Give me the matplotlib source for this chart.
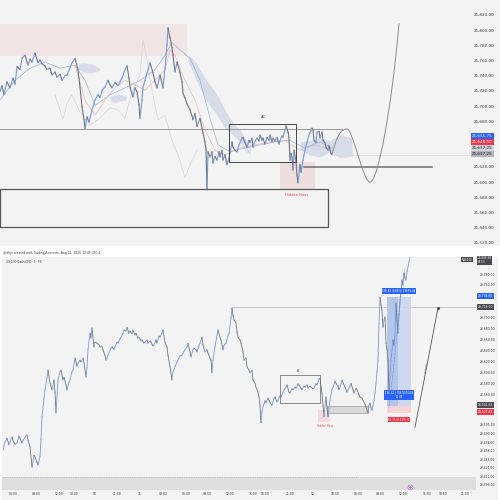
import numpy as np
import matplotlib
matplotlib.use("Agg")
import matplotlib.pyplot as plt
from matplotlib.collections import LineCollection
from matplotlib.patches import Rectangle, PathPatch
from matplotlib.path import Path

# ---------------- TOP PANEL DATA (bar index, price) ----------------
top_bars = [0, 2, 4, 7, 10, 13, 15, 17, 20, 22, 25, 28, 30, 32, 35, 38, 40, 42, 45, 47,
            50, 52, 55, 57, 60, 62, 65, 67, 70, 72, 75, 78, 80, 82, 84, 85, 87, 89, 92, 95,
            98, 100, 102, 105, 108, 110, 112, 115, 118, 120, 122, 125, 127, 129, 130, 133, 135, 137, 139, 140,
            142, 143, 145, 147, 150, 153, 155, 157, 160, 163, 165, 167, 168, 170, 172, 173, 175, 177, 180, 182,
            183, 185, 187, 190, 192, 193, 195, 197, 200, 202, 203, 205, 206, 207, 208, 210, 212, 213, 215, 217,
            219, 220, 222, 223, 225, 227, 229, 230, 232, 233, 235, 237, 239, 240, 242, 243, 245, 247, 249, 250,
            252, 253, 255, 257, 259, 260, 262, 263, 265, 267, 269, 270, 272, 273, 275, 277, 279, 280, 282, 283,
            285, 286, 288, 289, 290, 291, 292, 293, 294, 296, 297, 298, 300, 301, 303, 304, 306, 307, 309, 310,
            312, 313, 314, 316, 317, 319, 320, 322, 323, 325, 326, 328, 329, 331, 332]
top_prices = [21719, 21727, 21715, 21732, 21724, 21737, 21729, 21752, 21748, 21763, 21767, 21754, 21762, 21758, 21770, 21757, 21761, 21756, 21753, 21748,
              21750, 21741, 21745, 21738, 21742, 21734, 21740, 21741, 21750, 21757, 21763, 21748, 21725, 21699, 21682, 21670, 21686, 21679, 21695, 21708,
              21715, 21711, 21721, 21725, 21734, 21728, 21724, 21731, 21727, 21732, 21737, 21748, 21753, 21737, 21725, 21712, 21724, 21719, 21702, 21684,
              21708, 21725, 21734, 21744, 21757, 21744, 21732, 21724, 21741, 21724, 21750, 21781, 21803, 21790, 21777, 21767, 21745, 21758, 21744, 21732,
              21717, 21711, 21703, 21695, 21687, 21682, 21690, 21673, 21684, 21671, 21665, 21653, 21642, 21590, 21640, 21633, 21640, 21625, 21634, 21629,
              21640, 21633, 21642, 21629, 21636, 21623, 21632, 21638, 21653, 21646, 21642, 21640, 21649, 21652, 21658, 21659, 21652, 21646, 21655, 21652,
              21658, 21646, 21654, 21658, 21654, 21662, 21655, 21658, 21650, 21659, 21655, 21662, 21653, 21658, 21654, 21659, 21650, 21655, 21661, 21659,
              21669, 21674, 21666, 21659, 21629, 21638, 21632, 21616, 21642, 21627, 21609, 21599, 21623, 21613, 21629, 21636, 21648, 21653, 21662, 21665,
              21671, 21669, 21655, 21652, 21666, 21667, 21658, 21666, 21655, 21652, 21646, 21642, 21648, 21638, 21636]

top_base_bars = [0, 15, 30, 45, 60, 75, 85, 95, 110, 125, 140, 155, 165, 172, 180, 190, 200, 210, 218, 230, 245, 260, 275, 290, 305, 320, 332]
top_base_prices = [21708, 21734, 21750, 21758, 21750, 21754, 21734, 21701, 21715, 21724, 21734, 21748, 21767, 21784, 21774, 21763, 21734, 21684, 21649, 21640, 21645, 21649, 21653, 21655, 21645, 21653, 21645]

top_conv_bars = [75, 85, 95, 105, 115, 125, 135, 145, 155, 165, 170, 175, 185, 195, 205, 215, 225, 240, 255, 270, 285, 300, 315, 332]
top_conv_prices = [21754, 21708, 21688, 21708, 21724, 21734, 21728, 21721, 21734, 21748, 21774, 21767, 21734, 21708, 21669, 21642, 21636, 21645, 21649, 21653, 21655, 21642, 21649, 21642]

top_lag_bars = [55, 60, 63, 67, 72, 80, 90, 100, 110, 118, 125, 132, 140, 143, 147, 152, 158, 165, 172, 180, 185, 190, 197]
top_lag_prices = [21715, 21695, 21682, 21704, 21715, 21692, 21675, 21684, 21698, 21695, 21684, 21719, 21741, 21787, 21761, 21721, 21682, 21688, 21655, 21629, 21606, 21623, 21642]

cloud_a_bars = [78, 84, 90, 96, 100]
cloud_a_hi = [21756, 21757, 21756, 21753, 21750]
cloud_a_lo = [21748, 21745, 21744, 21745, 21748]
cloud_b_bars = [110, 115, 120, 126]
cloud_b_hi = [21713, 21715, 21716, 21713]
cloud_b_lo = [21707, 21705, 21707, 21708]
cloud_c_bars = [188, 192, 196, 200, 205, 210, 215, 220, 225, 230, 235, 240, 245, 250]
cloud_c_hi = [21767, 21763, 21757, 21748, 21737, 21728, 21719, 21708, 21695, 21684, 21675, 21669, 21658, 21649]
cloud_c_lo = [21758, 21748, 21734, 21724, 21711, 21700, 21692, 21682, 21671, 21666, 21659, 21653, 21642, 21636]
cloud_d_bars = [300, 310, 320, 330, 340, 352]
cloud_d_hi = [21653, 21655, 21658, 21655, 21662, 21658]
cloud_d_lo = [21642, 21636, 21633, 21640, 21632, 21634]

proj_bars = [332, 337, 342, 347, 353, 363, 370, 378, 392, 399]
proj_prices = [21636, 21664, 21670, 21670, 21670, 21600, 21600, 21600, 21700, 21809]

top_ticks = [21520, 21540, 21560, 21580, 21600, 21620, 21680, 21700,
             21720, 21740, 21760, 21780, 21800, 21820]
top_tags = [("21,655.75", 21660.7, "#2962ff", "white"),
            ("21,648.50", 21652.8, "#f23645", "white"),
            ("21,637.25", 21645.0, "#d1d4dc", "#131722"),
            ("21,637.25", 21637.1, "#b2b5be", "#131722")]

# ---------------- BOTTOM PANEL DATA ----------------
bot_bars = [3, 5, 7, 9, 10, 12, 13, 15, 17, 19, 20, 22, 23, 25, 27, 28, 30, 32, 34, 35,
            37, 38, 40, 41, 42, 44, 45, 47, 48, 50, 52, 54, 55, 56, 58, 60, 61, 63, 64, 66,
            67, 69, 70, 72, 73, 75, 77, 78, 80, 81, 83, 84, 86, 87, 88, 90, 91, 92, 94, 95,
            97, 99, 100, 102, 103, 105, 106, 108, 109, 111, 112, 114, 115, 117, 118, 120, 121, 123, 124, 126,
            127, 129, 130, 132, 133, 135, 136, 138, 139, 141, 142, 144, 145, 147, 148, 150, 151, 153, 154, 156,
            157, 159, 160, 162, 163, 165, 167, 168, 170, 172, 173, 175, 177, 178, 180, 182, 183, 185, 187, 188,
            190, 191, 193, 194, 196, 197, 199, 200, 202, 203, 205, 207, 208, 210, 211, 212, 213, 215, 217, 218,
            220, 221, 223, 224, 226, 228, 229, 231, 232, 233, 234, 236, 237, 238, 240, 241, 243, 244, 246, 247,
            249, 250, 252, 253, 255, 256, 258, 259, 260, 261, 262, 263, 265, 266, 268, 269, 271, 272, 274, 275,
            277, 278, 280, 281, 283, 284, 286, 287, 289, 290, 292, 293, 295, 296, 298, 299, 301, 302, 304, 305,
            307, 308, 310, 311, 313, 314, 316, 317, 319, 320, 321, 322, 323, 324, 325, 326, 327, 328, 329, 330,
            332, 333, 335, 336, 338, 339, 341, 342, 344, 345, 347, 348, 350, 351, 353, 354, 356, 357, 359, 360,
            362, 363, 365, 366, 367, 368, 369, 370, 371, 372, 373, 374, 375, 376, 377, 378, 379, 380, 381, 382,
            383, 384, 385, 386, 387, 388, 389, 390, 391, 392, 393, 394, 395, 396, 397, 398, 399, 400, 401, 402,
            403, 404, 405, 406, 407, 408, 409, 410]
bot_prices = [23459, 23474, 23481, 23469, 23474, 23483, 23477, 23470, 23472, 23485, 23481, 23472, 23477, 23483, 23487, 23477, 23465, 23428, 23450, 23447,
              23437, 23432, 23447, 23478, 23520, 23554, 23569, 23591, 23605, 23581, 23569, 23587, 23565, 23527, 23587, 23602, 23605, 23587, 23592, 23578,
              23569, 23583, 23587, 23602, 23605, 23627, 23612, 23618, 23623, 23620, 23627, 23618, 23592, 23609, 23642, 23672, 23663, 23682, 23647, 23656,
              23654, 23651, 23647, 23649, 23642, 23631, 23623, 23632, 23636, 23645, 23647, 23643, 23647, 23656, 23654, 23662, 23665, 23672, 23678, 23676,
              23683, 23672, 23676, 23671, 23678, 23669, 23672, 23663, 23665, 23658, 23660, 23654, 23656, 23660, 23654, 23658, 23656, 23649, 23651, 23660,
              23654, 23667, 23665, 23672, 23678, 23656, 23647, 23632, 23611, 23587, 23602, 23611, 23620, 23623, 23631, 23632, 23636, 23642, 23647, 23654,
              23638, 23629, 23642, 23645, 23642, 23638, 23649, 23654, 23665, 23651, 23638, 23642, 23636, 23627, 23623, 23600, 23623, 23647, 23669, 23678,
              23665, 23660, 23642, 23650, 23654, 23667, 23672, 23700, 23718, 23705, 23696, 23691, 23674, 23665, 23660, 23654, 23638, 23623, 23627, 23611,
              23605, 23600, 23605, 23587, 23581, 23574, 23565, 23556, 23541, 23509, 23529, 23538, 23549, 23545, 23554, 23550, 23543, 23541, 23554, 23556,
              23547, 23550, 23558, 23556, 23565, 23569, 23574, 23578, 23565, 23563, 23571, 23569, 23574, 23572, 23580, 23578, 23572, 23569, 23576, 23574,
              23578, 23572, 23576, 23574, 23571, 23572, 23580, 23578, 23589, 23590, 23574, 23563, 23541, 23520, 23541, 23556, 23536, 23520, 23536, 23550,
              23569, 23574, 23585, 23581, 23576, 23569, 23580, 23587, 23578, 23574, 23565, 23569, 23576, 23581, 23569, 23563, 23572, 23569, 23560, 23556,
              23554, 23550, 23543, 23538, 23532, 23527, 23541, 23545, 23536, 23532, 23541, 23550, 23563, 23581, 23602, 23623, 23690, 23738, 23724, 23714,
              23683, 23696, 23702, 23654, 23642, 23623, 23563, 23596, 23623, 23642, 23660, 23650, 23672, 23727, 23696, 23672, 23705, 23733, 23747, 23769,
              23760, 23782, 23773, 23769, 23784, 23793, 23802, 23811]

replay_bars = [389, 393, 397, 402, 405]
replay_prices = [23537, 23600, 23672, 23760, 23790]

bot_ticks = [23780, 23760, 23700, 23680, 23660, 23640, 23620, 23600, 23580, 23560,
             23505, 23490, 23474, 23458, 23443, 23427, 23411, 23396]
time_pos = [13, 36, 59, 74, 95, 117, 140, 163, 186, 207, 230, 253, 265, 290, 313, 335, 358, 380, 403, 427, 443, 465]
time_labels = ["06:00", "09:00", "12:00", "14:00", "10", "21:00", "11", "03:00", "06:00", "09:00", "12:00",
               "15:00", "18:00", "21:00", "12", "03:00", "06:00", "09:00", "12:00", "15:00", "18:00", "21:00"]
bot_tags = [("23,738.80", 23740.0, "#2962ff", "white"),
            ("23,719.90", 23719.9, "#4a4a4f", "white"),
            ("23,541.63", 23541.4, "#4a4a4f", "white"),
            ("23,527.63", 23528.6, "#f23645", "white")]

UP = "#7299da"
DOWN = "#6f727a"
BG = "#f3f3f3"

W = H = 500
fig = plt.figure(figsize=(5, 5), dpi=100)
fig.patch.set_facecolor("white")


def fax(x0, y0, x1, y1):
    return fig.add_axes([x0 / W, 1 - y1 / H, (x1 - x0) / W, (y1 - y0) / H])


def fig_rect(x0, y0, x1, y1, color):
    fig.add_artist(Rectangle((x0 / W, 1 - y1 / H), (x1 - x0) / W, (y1 - y0) / H,
                             transform=fig.transFigure, facecolor=color, edgecolor="none", zorder=-10))


fig_rect(0, 0, 500, 246, BG)
fig_rect(2, 257, 498, 500, BG)


def price_line(ax, xs, ys, lw=0.7, z=5):
    x = np.asarray(xs, float)
    y = np.asarray(ys, float)
    seg = np.stack([np.column_stack([x[:-1], y[:-1]]), np.column_stack([x[1:], y[1:]])], axis=1)
    cols = np.where(np.diff(y) >= 0, UP, DOWN)
    ax.add_collection(LineCollection(seg, colors=cols, linewidths=lw, capstyle="round", zorder=z))


def tag(ax, y, text, fc, tc, fs, x):
    ax.text(x, y, text, transform=ax.get_yaxis_transform(), fontsize=fs, color=tc,
            va="center", ha="left", clip_on=False, zorder=20,
            bbox=dict(boxstyle="square,pad=0.25", fc=fc, ec="none"))


# ================= TOP PANEL =================
ax = fax(0, 0, 470, 246)
ax.set_facecolor(BG)
ax.set_xlim(0, 470)
ax.set_ylim(21516, 21839.7)
for s in ax.spines.values():
    s.set_visible(False)

ax.add_patch(Rectangle((0, 21766), 187, 21808 - 21766, fc="#ecc8c8", ec="none", alpha=0.35, zorder=1))
ax.add_patch(Rectangle((280, 21589.7), 35, 21626.5 - 21589.7, fc="#e8c4c4", ec="none", alpha=0.45, zorder=1))
for bx, hi, lo in [(cloud_a_bars, cloud_a_hi, cloud_a_lo), (cloud_b_bars, cloud_b_hi, cloud_b_lo),
                   (cloud_c_bars, cloud_c_hi, cloud_c_lo), (cloud_d_bars, cloud_d_hi, cloud_d_lo)]:
    ax.fill_between(bx, lo, hi, color="#c3cde2", alpha=0.6, lw=0, zorder=2)

ax.plot(top_lag_bars, top_lag_prices, color="#d6d6d9", lw=0.5, zorder=3)
ax.plot(top_base_bars, top_base_prices, color="#8eabdc", lw=0.45, zorder=4)
ax.plot(top_conv_bars, top_conv_prices, color="#e7a8a8", lw=0.4, zorder=4)
price_line(ax, top_bars, top_prices, lw=0.8)

ax.plot([0, 342], [21670, 21670], color="#9a9a9a", lw=0.7, zorder=3)
ax.plot([332, 470], [21636, 21636], color="#d6d6d6", lw=0.5, zorder=3)
ax.plot([304, 432], [21620, 21620], color="#6e6e6e", lw=1.1, zorder=3)
ax.add_patch(Rectangle((229, 21626.5), 67, 50, fc="none", ec="#444", lw=0.7, zorder=6))
ax.add_patch(Rectangle((0, 21541), 328, 50, fc="none", ec="#555", lw=0.9, zorder=6))
ax.text(263, 21683, "AC", fontsize=2.6, color="#333", ha="center", va="bottom")
ax.text(297, 21586, "Hidden Haus", fontsize=2.6, color="#e53935", ha="center", va="top")

verts = list(zip(proj_bars, proj_prices))
codes = [Path.MOVETO] + [Path.CURVE4] * 9
ax.add_patch(PathPatch(Path(verts, codes), fc="none", ec="#8a8a8a", lw=0.7, zorder=6))

ax.yaxis.tick_right()
ax.set_yticks(top_ticks)
ax.set_yticklabels([f"{t:,.2f}" for t in top_ticks], fontsize=3.0, color="#333")
ax.tick_params(axis="y", length=0, pad=3)
ax.set_xticks([])
for text, y, fc, tc in top_tags:
    tag(ax, y, text, fc, tc, 3.0, 1.004)

# ================= BOTTOM PANEL =================
fig.text(3 / W, 1 - 253 / H, "@dhyr created with TradingView.com, Aug 12, 2025 12:47 UTC-4",
         fontsize=2.2, color="#333", va="center", ha="left")

ax2 = fax(2, 257, 476, 490)
ax2.set_facecolor(BG)
ax2.set_xlim(2, 476)
ax2.set_ylim(23386.6, 23811.0)
for s in ax2.spines.values():
    s.set_visible(False)
ax2.text(0.008, 0.985, "US 100 Cash CFD · 5 · FX", transform=ax2.transAxes, fontsize=2.1,
         color="#333", va="top", ha="left")

ax2.axhspan(23386.6, 23410.3, color="#dedede", lw=0, zorder=1)
ax2.plot([3, 358], [23410.3, 23410.3], color="#999", lw=0.5, ls=(0, (1, 1.5)), zorder=2)
ax2.plot(410, 23392, "o", ms=3.5, mfc="white", mec="#b06ac0", mew=0.5, zorder=3)
ax2.plot(410, 23392, "o", ms=1.0, color="#b06ac0", zorder=4)

ax2.plot([232, 476], [23719.9, 23719.9], color="#b5b5b5", lw=0.5, zorder=2)
ax2.add_patch(Rectangle((280, 23545), 40, 23596 - 23545, fc="none", ec="#777", lw=0.6, zorder=6))
ax2.text(299, 23599, "AC", fontsize=1.8, color="#333", ha="center", va="bottom")
ax2.add_patch(Rectangle((327, 23527), 41, 13, fc="#d9d9d9", ec="#9a9a9a", lw=0.5, zorder=3))
ax2.add_patch(Rectangle((318, 23510), 12, 22, fc="#f1cccc", ec="none", alpha=0.6, zorder=2))
ax2.text(325, 23507, "Hidden Haus", fontsize=1.8, color="#e53935", ha="center", va="top")

ax2.add_patch(Rectangle((387, 23540), 24, 23738 - 23540, fc="#c9d6ef", ec="none", alpha=0.9, zorder=2))
ax2.add_patch(Rectangle((387, 23540), 11, 23738 - 23540, fc="#a9bfe8", ec="none", alpha=0.7, zorder=2))
ax2.add_patch(Rectangle((387, 23527), 24, 13, fc="#f6d4d4", ec="none", zorder=2))
ax2.plot(replay_bars, replay_prices, color="#4f7fd8", lw=0.5, ls=(0, (1, 1)), zorder=6)

price_line(ax2, bot_bars, bot_prices, lw=0.6)

ax2.text(399, 23749, "156.82 (0.66%) 15685.44", fontsize=1.9, color="white", ha="center", va="center",
         zorder=20, bbox=dict(boxstyle="square,pad=0.3", fc="#2962ff", ec="none"))
ax2.text(399, 23560, "156.32 | 756/5000/18\n15.45", fontsize=1.9, color="white", ha="center", va="center",
         zorder=20, linespacing=1.0, bbox=dict(boxstyle="square,pad=0.3", fc="#2962ff", ec="none"))
ax2.text(399, 23515, "52.75 (0.22%) 8", fontsize=1.9, color="white", ha="center", va="center",
         zorder=20, bbox=dict(boxstyle="square,pad=0.3", fc="#f23645", ec="none"))

ax2.plot([415, 438], [23501, 23718], color="#555", lw=0.6, zorder=6)
ax2.plot(438, 23718, "o", ms=1.3, color="#555", zorder=7)
ax2.text(426, 23610, "Projection", fontsize=1.7, color="#444", rotation=79, ha="center", va="center")

ax2.yaxis.tick_right()
ax2.set_yticks(bot_ticks)
ax2.set_yticklabels([f"{t:,.2f}" for t in bot_ticks], fontsize=2.2, color="#333")
ax2.tick_params(axis="y", length=0, pad=3)
ax2.set_xticks(time_pos)
ax2.set_xticklabels(time_labels, fontsize=2.2, color="#333")
ax2.tick_params(axis="x", length=0, pad=1.5)

for text, y, fc, tc in bot_tags:
    tag(ax2, y, text, fc, tc, 2.2, 1.004)
ax2.text((462 - 2) / 474, 23806, "NAS100", transform=ax2.get_yaxis_transform(), fontsize=2.0,
         color="white", va="center", ha="left", zorder=20,
         bbox=dict(boxstyle="square,pad=0.25", fc="#4a4a4f", ec="none"))
ax2.text(1.004, 23805, "23,809.38\n00:13", transform=ax2.get_yaxis_transform(), fontsize=2.0,
         color="white", va="center", ha="left", clip_on=False, zorder=20, linespacing=1.0,
         bbox=dict(boxstyle="square,pad=0.25", fc="#4a4a4f", ec="none"))

fig.savefig("out.png", dpi=100)
